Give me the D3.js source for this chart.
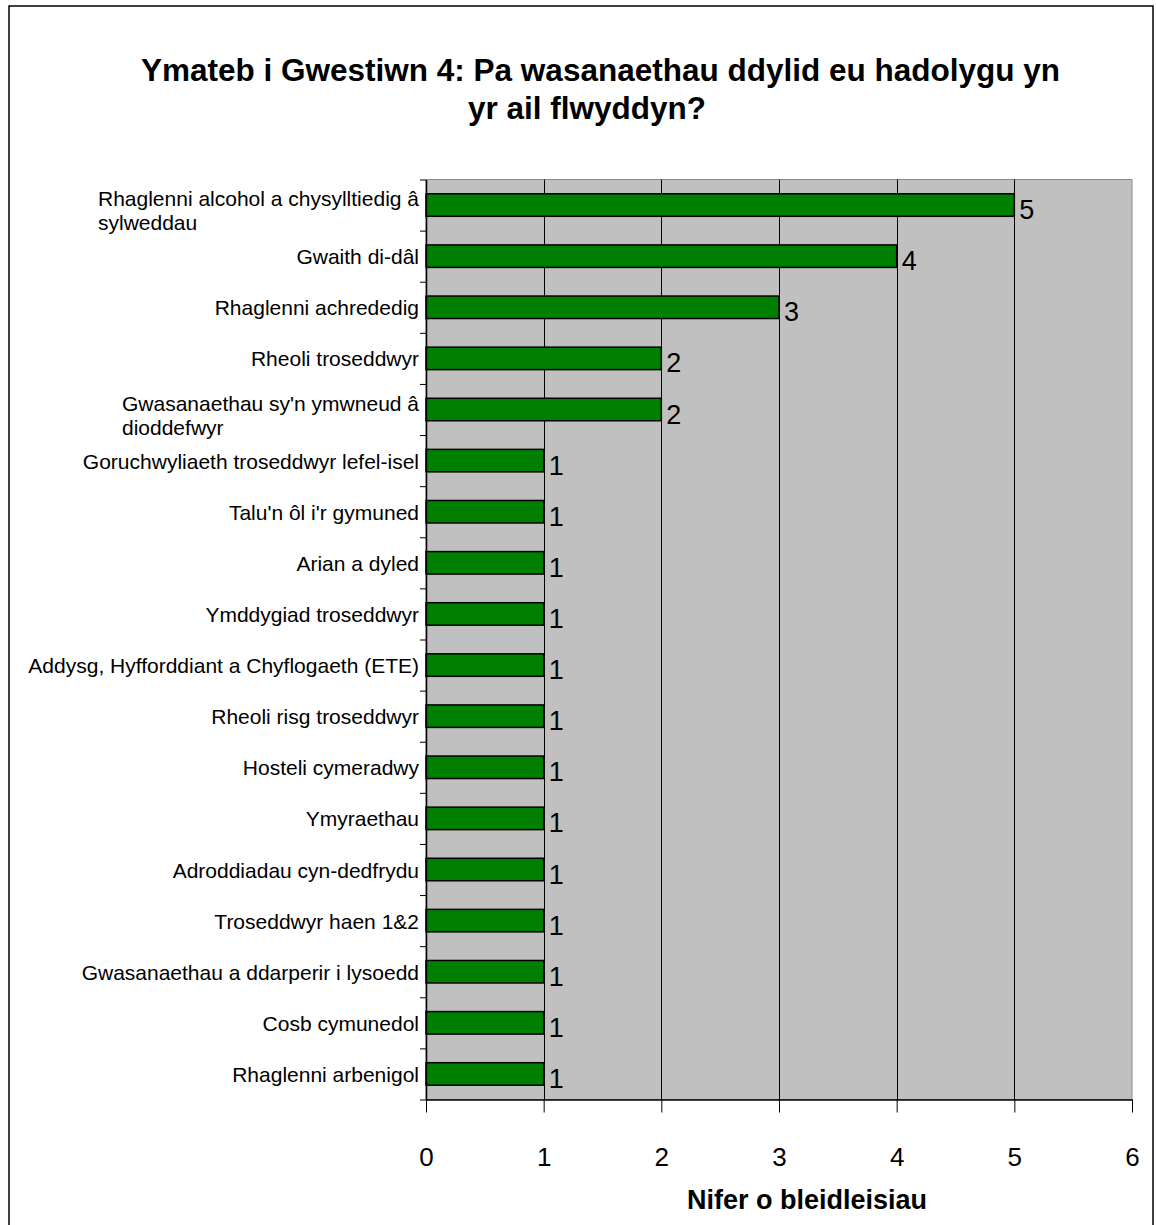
<html>
<head>
<meta charset="utf-8">
<script src="https://cdn.jsdelivr.net/npm/d3@7"></script>
<style>
  body { margin: 0; background: #fff; }
  text { font-family: "Liberation Sans", Arial, sans-serif; }
</style>
</head>
<body>
<script>
// chart data
var categories = [
  "Rhaglenni alcohol a chysylltiedig â\nsylweddau",
  "Gwaith di-dâl",
  "Rhaglenni achrededig",
  "Rheoli troseddwyr",
  "Gwasanaethau sy'n ymwneud â\ndioddefwyr",
  "Goruchwyliaeth troseddwyr lefel-isel",
  "Talu'n ôl i'r gymuned",
  "Arian a dyled",
  "Ymddygiad troseddwyr",
  "Addysg, Hyfforddiant a Chyflogaeth (ETE)",
  "Rheoli risg troseddwyr",
  "Hosteli cymeradwy",
  "Ymyraethau",
  "Adroddiadau cyn-dedfrydu",
  "Troseddwyr haen 1&2",
  "Gwasanaethau a ddarperir i lysoedd",
  "Cosb cymunedol",
  "Rhaglenni arbenigol"
];
var votes = [5, 4, 3, 2, 2, 1, 1, 1, 1, 1, 1, 1, 1, 1, 1, 1, 1, 1];
var xTicks = [0, 1, 2, 3, 4, 5, 6];
var titleLines = ["Ymateb i Gwestiwn 4: Pa wasanaethau ddylid eu hadolygu yn", "yr ail flwyddyn?"];
var xTitle = "Nifer o bleidleisiau";

var W = 1156, H = 1225;
var plotLeft = 426, plotRight = 1132, plotTop = 179.5, plotBottom = 1099.5;

var svg = d3.select('body').append('svg')
  .attr('width', W).attr('height', H);

// outer frame
svg.append('rect')
  .attr('x', 9).attr('y', 6)
  .attr('width', 1144).attr('height', 1230)
  .attr('fill', 'none').attr('stroke', '#000').attr('stroke-width', 1.5);

// title
svg.append('text').attr('x', 141).attr('y', 81)
  .style('font-size', '31.5px').style('font-weight', 'bold')
  .text(titleLines[0]);
svg.append('text').attr('x', 468).attr('y', 118.5)
  .style('font-size', '31.5px').style('font-weight', 'bold')
  .text(titleLines[1]);

var x = d3.scaleLinear().domain([0, 6]).range([plotLeft, plotRight]);
var y = d3.scaleBand().domain(categories).range([plotTop, plotBottom])
  .paddingInner(0.56).paddingOuter(0.28);
var yIdx = d3.scaleLinear().domain([0, categories.length]).range([plotTop, plotBottom]);

// plot area
svg.append('rect')
  .attr('x', plotLeft).attr('y', plotTop)
  .attr('width', plotRight - plotLeft).attr('height', plotBottom - plotTop)
  .attr('fill', '#c0c0c0').attr('stroke', '#8c8c8c').attr('stroke-width', 1);

// gridlines
svg.selectAll('line.grid')
  .data(xTicks.slice(1, -1))
  .enter().append('line')
  .attr('class', 'grid')
  .attr('x1', function(d) { return Math.round(x(d)) + 0.5; })
  .attr('x2', function(d) { return Math.round(x(d)) + 0.5; })
  .attr('y1', plotTop).attr('y2', plotBottom)
  .attr('stroke', '#000').attr('stroke-width', 1);

// bars
svg.selectAll('rect.bar')
  .data(votes)
  .enter().append('rect')
  .attr('class', 'bar')
  .attr('x', x(0))
  .attr('y', function(d, i) { return y(categories[i]); })
  .attr('width', function(d) { return x(d) - x(0); })
  .attr('height', y.bandwidth())
  .attr('fill', '#008000').attr('stroke', '#000').attr('stroke-width', 1.5);

// value labels
svg.selectAll('text.val')
  .data(votes)
  .enter().append('text')
  .attr('class', 'val')
  .attr('x', function(d) { return x(d) + 5; })
  .attr('y', function(d, i) { return y(categories[i]) + y.bandwidth() / 2 + 14; })
  .style('font-size', '27px')
  .text(function(d) { return d; });

// y axis (ticks at category boundaries)
var yAxis = svg.append('g')
  .attr('transform', 'translate(' + plotLeft + ',0)')
  .call(d3.axisLeft(yIdx).tickValues(d3.range(categories.length + 1)).tickFormat('').tickSize(6).tickSizeOuter(0));
yAxis.select('.domain').attr('stroke', '#000').attr('stroke-width', 1.5);

// category labels
categories.forEach(function(c, i) {
  var lines = c.split('\n');
  var cy = y(c) + y.bandwidth() / 2;
  if (lines.length == 1) {
    svg.append('text')
      .attr('x', 419).attr('y', cy + 8)
      .attr('text-anchor', 'end')
      .style('font-size', '21px')
      .text(c);
  } else {
    var g = svg.append('g');
    lines.forEach(function(l, k) {
      g.append('text')
        .attr('y', cy + 1 + k * 24)
        .style('font-size', '21px')
        .text(l);
    });
    var wmax = 0;
    g.selectAll('text').each(function() { wmax = Math.max(wmax, this.getComputedTextLength()); });
    g.selectAll('text').attr('x', 419 - wmax);
  }
});

// x axis
var xAxis = svg.append('g')
  .attr('transform', 'translate(0,' + plotBottom + ')')
  .call(d3.axisBottom(x).tickValues(xTicks).tickFormat(d3.format('d')).tickSize(13).tickPadding(35).tickSizeOuter(0));
xAxis.select('.domain').attr('stroke', '#000').attr('stroke-width', 1.5);
xAxis.selectAll('text')
  .style('font-size', '26px')
  .style('font-family', '"Liberation Sans", Arial, sans-serif')
  .attr('fill', '#000');

svg.append('text')
  .attr('x', 807).attr('y', 1209)
  .attr('text-anchor', 'middle')
  .style('font-size', '27px').style('font-weight', 'bold')
  .text(xTitle);
</script>
</body>
</html>
